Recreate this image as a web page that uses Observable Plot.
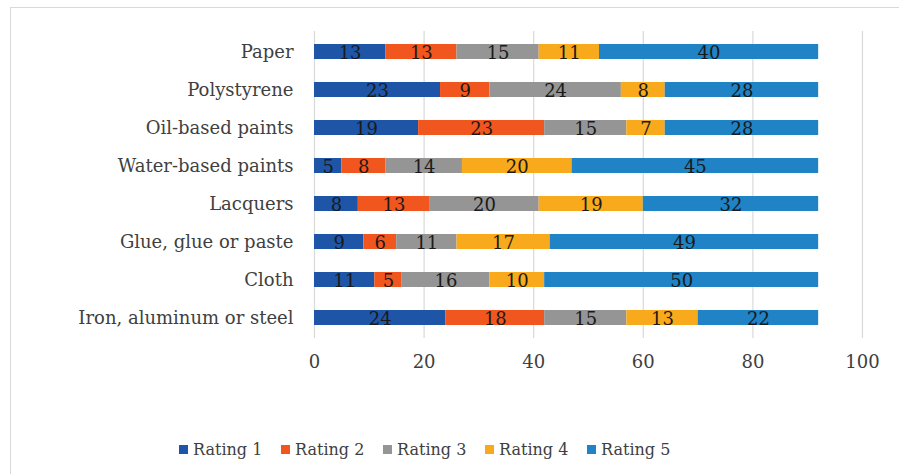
<!DOCTYPE html>
<html>
<head>
<meta charset="utf-8">
<script src="https://cdn.jsdelivr.net/npm/d3@7"></script>
<script src="https://cdn.jsdelivr.net/npm/@observablehq/plot@0.6"></script>
<style>
  html, body { margin: 0; padding: 0; background: #fff; }
  body { width: 899px; height: 474px; position: relative; overflow: hidden; font-family: "DejaVu Serif", serif; }
  #frame { position: absolute; left: 10px; top: 7px; width: 900px; height: 470px; border: 1.5px solid #d9d9d9; box-sizing: border-box; }
  #chart { position: absolute; left: 0; top: 0; }
  #legend { position: absolute; left: 179px; top: 440px; display: flex; gap: 0; font-size: 16px; color: #404040; }
  #legend .item { display: flex; align-items: center; width: 102px; white-space: nowrap; }
  #legend .sw { width: 9px; height: 9px; margin-right: 5px; display: inline-block; }
</style>
</head>
<body>
<div id="frame"></div>
<div id="chart"></div>
<div id="legend"></div>
<script>
const categories = ["Paper", "Polystyrene", "Oil-based paints", "Water-based paints", "Lacquers", "Glue, glue or paste", "Cloth", "Iron, aluminum or steel"];
const ratings = ["Rating 1", "Rating 2", "Rating 3", "Rating 4", "Rating 5"];
const rating1 = [13, 23, 19, 5, 8, 9, 11, 24];
const rating2 = [13, 9, 23, 8, 13, 6, 5, 18];
const rating3 = [15, 24, 15, 14, 20, 11, 16, 15];
const rating4 = [11, 8, 7, 20, 19, 17, 10, 13];
const rating5 = [40, 28, 28, 45, 32, 49, 50, 22];
const xTicks = [0, 20, 40, 60, 80, 100];
const colors = ["#1f55a6", "#f1561f", "#959595", "#f8aa1c", "#1f83c5"];

const series = [rating1, rating2, rating3, rating4, rating5];
const data = [];
categories.forEach((c, i) => {
  series.forEach((s, j) => data.push({category: c, rating: ratings[j], value: s[i]}));
});

const stackOpts = {y: "category", x: "value", z: "rating", order: ratings};

const chart = Plot.plot({
  width: 899,
  height: 380,
  marginTop: 31,
  marginBottom: 42,
  marginLeft: 314,
  marginRight: 37,
  style: {fontFamily: "DejaVu Serif, serif", fontSize: "18px", color: "#404040", background: "transparent"},
  x: {domain: [0, 100], ticks: xTicks, label: null},
  y: {domain: categories, paddingInner: 0.6, paddingOuter: 0.3, label: null},
  color: {domain: ratings, range: colors},
  marks: [
    Plot.gridX(xTicks, {stroke: "#d9d9d9", strokeOpacity: 1, strokeWidth: 1.2}),
    Plot.axisX({ticks: xTicks, tickSize: 0, tickPadding: 17, fontSize: 18, fill: "#404040", label: null}),
    Plot.axisY({tickSize: 0, tickPadding: 21, fontSize: 18, fill: "#404040", label: null}),
    Plot.barX(data, Plot.stackX({...stackOpts, fill: "rating"})),
    Plot.text(data, Plot.stackX({...stackOpts, text: d => String(d.value), fill: "#1a1a1a", fontSize: 18, dy: 1})),
  ]
});
document.getElementById("chart").appendChild(chart);

const legend = document.getElementById("legend");
ratings.forEach((r, j) => {
  const item = document.createElement("div");
  item.className = "item";
  const sw = document.createElement("span");
  sw.className = "sw";
  sw.style.background = colors[j];
  const t = document.createElement("span");
  t.textContent = r;
  item.appendChild(sw);
  item.appendChild(t);
  legend.appendChild(item);
});
</script>
</body>
</html>
